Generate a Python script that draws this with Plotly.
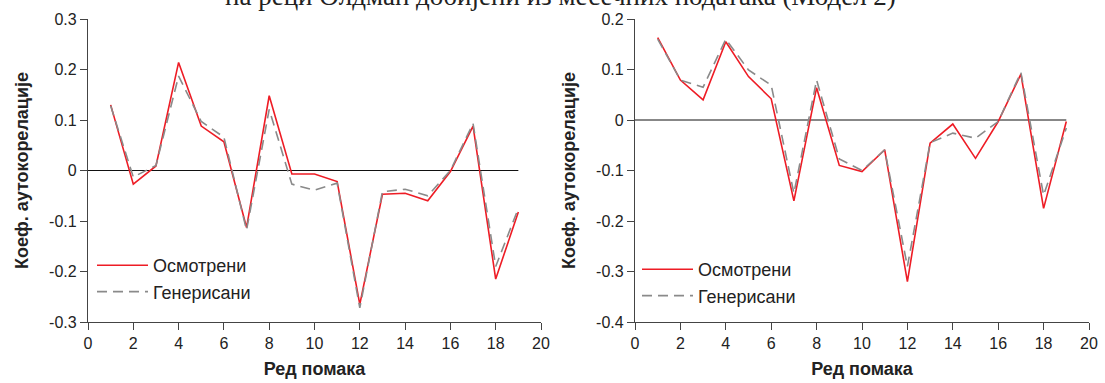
import plotly.graph_objects as go

lags = list(range(1, 20))

# Left chart values
left_observed = [0.130, -0.027, 0.009, 0.214, 0.088, 0.057, -0.113, 0.148, -0.007, -0.007,
                 -0.022, -0.265, -0.047, -0.045, -0.060, -0.002, 0.088, -0.215, -0.082]
left_generated = [0.128, -0.013, 0.010, 0.187, 0.097, 0.066, -0.118, 0.121, -0.027, -0.039,
                  -0.025, -0.272, -0.042, -0.037, -0.050, 0.000, 0.093, -0.190, -0.075]

# Right chart values
right_observed = [0.163, 0.079, 0.040, 0.155, 0.086, 0.042, -0.160, 0.064, -0.090, -0.102,
                  -0.059, -0.320, -0.046, -0.008, -0.076, -0.003, 0.091, -0.175, -0.003]
right_generated = [0.160, 0.079, 0.065, 0.160, 0.099, 0.069, -0.145, 0.079, -0.077, -0.100,
                   -0.059, -0.290, -0.045, -0.026, -0.036, -0.003, 0.094, -0.149, -0.016]

series_names = ["Осмотрени", "Генерисани"]
x_ticks = list(range(0, 21, 2))
left_yticks = [0.3, 0.2, 0.1, 0, -0.1, -0.2, -0.3]
left_yticklabels = ["0.3", "0.2", "0.1", "0", "-0.1", "-0.2", "-0.3"]
right_yticks = [0.2, 0.1, 0, -0.1, -0.2, -0.3, -0.4]
right_yticklabels = ["0.2", "0.1", "0", "-0.1", "-0.2", "-0.3", "-0.4"]
x_title = "Ред помака"
y_title = "Коеф. аутокорелације"
cut_title = "на реци Олдман добијени из месечних података (Модел 2)"

RED = "#ee1c25"
GREY = "#8a8a8a"
AXC = "#444444"
FONT = "Liberation Sans, Arial, sans-serif"

fig = go.Figure()

# zero lines
fig.add_trace(go.Scatter(x=[0, 19], y=[0, 0], mode="lines", line=dict(color="#111", width=1),
                         showlegend=False, hoverinfo="skip", xaxis="x", yaxis="y"))
fig.add_trace(go.Scatter(x=[0, 19], y=[0, 0], mode="lines", line=dict(color="#111", width=1),
                         showlegend=False, hoverinfo="skip", xaxis="x2", yaxis="y2"))

fig.add_trace(go.Scatter(x=lags, y=left_observed, mode="lines", name=series_names[0],
                         line=dict(color=RED, width=1.6), xaxis="x", yaxis="y", legend="legend"))
fig.add_trace(go.Scatter(x=lags, y=left_generated, mode="lines", name=series_names[1],
                         line=dict(color=GREY, width=1.6, dash="10px,6px"), xaxis="x", yaxis="y",
                         legend="legend"))
fig.add_trace(go.Scatter(x=lags, y=right_observed, mode="lines", name=series_names[0],
                         line=dict(color=RED, width=1.6), xaxis="x2", yaxis="y2", legend="legend2"))
fig.add_trace(go.Scatter(x=lags, y=right_generated, mode="lines", name=series_names[1],
                         line=dict(color=GREY, width=1.6, dash="10px,6px"), xaxis="x2", yaxis="y2",
                         legend="legend2"))

W, H = 1105, 383
ydom = [(H - 322) / H, (H - 19) / H]

axis_common = dict(showgrid=False, zeroline=False, showline=True, linecolor=AXC, linewidth=1.2,
                   ticks="outside", ticklen=7, tickcolor=AXC, tickwidth=1.2, automargin=False,
                   tickfont=dict(family=FONT, size=16, color="#222"))

title_font = dict(family=FONT, size=18, color="#222", weight="bold")

fig.update_layout(
    width=W, height=H,
    margin=dict(l=0, r=0, t=0, b=0),
    paper_bgcolor="white", plot_bgcolor="white",
    font=dict(family=FONT, color="#222"),
    xaxis=dict(domain=[88 / W, 541 / W], range=[0, 20], tickvals=x_ticks, anchor="y",
               title=dict(text=x_title, font=title_font, standoff=11), **axis_common),
    yaxis=dict(domain=ydom, range=[-0.3, 0.3], tickvals=left_yticks, ticktext=left_yticklabels,
               anchor="x", title=dict(text=y_title, font=title_font, standoff=15), **axis_common),
    xaxis2=dict(domain=[635 / W, 1089 / W], range=[0, 20], tickvals=x_ticks, anchor="y2",
                title=dict(text=x_title, font=title_font, standoff=11), **axis_common),
    yaxis2=dict(domain=ydom, range=[-0.4, 0.2], tickvals=right_yticks, ticktext=right_yticklabels,
                anchor="x2", title=dict(text=y_title, font=title_font, standoff=15), **axis_common),
    legend=dict(x=92 / W, y=(H - 247) / H, xanchor="left", yanchor="top",
                bgcolor="rgba(0,0,0,0)", font=dict(family=FONT, size=18, color="#222"),
                tracegroupgap=0, itemwidth=51),
    legend2=dict(x=637 / W, y=(H - 251) / H, xanchor="left", yanchor="top",
                 bgcolor="rgba(0,0,0,0)", font=dict(family=FONT, size=18, color="#222"),
                 tracegroupgap=0, itemwidth=51),
    showlegend=True,
)

fig.add_annotation(text=cut_title, xref="paper", yref="paper", x=560 / W, y=1.0 + 4 / H,
                   xanchor="center", yanchor="middle", showarrow=False,
                   font=dict(family="Liberation Serif, Times New Roman, serif", size=27, color="#222"))

fig.write_html("out.html", config={"displayModeBar": False},
               post_script="document.body.style.margin='0px';")
